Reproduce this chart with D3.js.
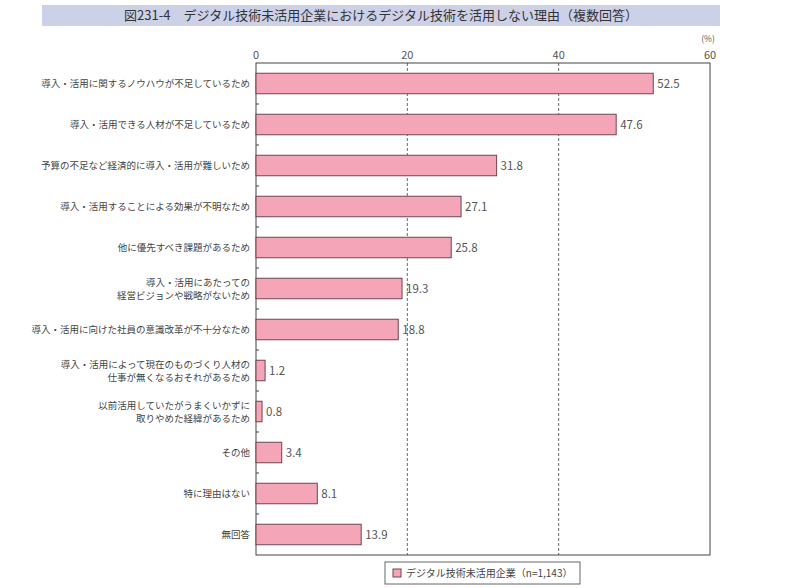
<!DOCTYPE html>
<html>
<head>
<meta charset="utf-8">
<script src="https://cdn.jsdelivr.net/npm/d3@7"></script>
<style>
  body { margin: 0; background: #fff; }
  text { font-family: "Noto Sans CJK JP", "Noto Sans", sans-serif; }
</style>
</head>
<body>
<svg width="800" height="588"></svg>
<script>
// categories (two-line labels split on "\n")
let categories = [
    "導入・活用に関するノウハウが不足しているため",
    "導入・活用できる人材が不足しているため",
    "予算の不足など経済的に導入・活用が難しいため",
    "導入・活用することによる効果が不明なため",
    "他に優先すべき課題があるため",
    "導入・活用にあたっての\n経営ビジョンや戦略がないため",
    "導入・活用に向けた社員の意識改革が不十分なため",
    "導入・活用によって現在のものづくり人材の\n仕事が無くなるおそれがあるため",
    "以前活用していたがうまくいかずに\n取りやめた経緯があるため",
    "その他",
    "特に理由はない",
    "無回答"
];
let values = [52.5, 47.6, 31.8, 27.1, 25.8, 19.3, 18.8, 1.2, 0.8, 3.4, 8.1, 13.9];
let xTicks = [0, 20, 40, 60];
let title = "図231-4　デジタル技術未活用企業におけるデジタル技術を活用しない理由（複数回答）";
let legendLabel = "デジタル技術未活用企業（n=1,143）";

let svg = d3.select("svg"),
    margin = {top: 63, left: 256, right: 90, bottom: 33},
    width = +svg.attr("width") - margin.left - margin.right,
    height = +svg.attr("height") - margin.top - margin.bottom;

let x = d3.scaleLinear().domain([0, 60]).range([0, width]);
let y = d3.scaleBand().domain(categories).range([0, height]).paddingInner(0.5).paddingOuter(0.25);

// title bar
svg.append("rect")
    .attr("x", 42).attr("y", 5).attr("width", 678).attr("height", 21)
    .attr("fill", "#cdd1e8");
svg.append("text")
    .attr("x", 381).attr("y", 20)
    .attr("text-anchor", "middle")
    .attr("font-size", 13)
    .attr("fill", "#333")
    .text(title);

let g = svg.append("g")
    .attr("transform", "translate(" + margin.left + "," + margin.top + ")");

// dashed grid
g.selectAll(".grid")
    .data(xTicks.filter(d => d > 0 && d < 60))
    .enter().append("line")
    .attr("x1", d => x(d)).attr("x2", d => x(d))
    .attr("y1", 0).attr("y2", height)
    .attr("stroke", "#444").attr("stroke-width", 0.8)
    .attr("stroke-dasharray", "3,2");

// frame
g.append("rect")
    .attr("width", width).attr("height", height)
    .attr("fill", "none").attr("stroke", "#444").attr("stroke-width", 1);

// top axis labels
g.selectAll(".xlab")
    .data(xTicks)
    .enter().append("text")
    .attr("x", d => x(d)).attr("y", -4)
    .attr("text-anchor", "middle")
    .attr("font-size", 11)
    .attr("fill", "#555")
    .text(d => d);
g.append("text")
    .attr("x", x(60) - 2).attr("y", -21)
    .attr("text-anchor", "middle")
    .attr("font-size", 8.5)
    .attr("fill", "#555")
    .text("(%)");

// small ticks between categories
let step = y.step();
g.selectAll(".ctick")
    .data(categories.slice(1))
    .enter().append("line")
    .attr("x1", 0).attr("x2", 3)
    .attr("y1", d => y(d) - step * 0.25).attr("y2", d => y(d) - step * 0.25)
    .attr("stroke", "#444");

// bars
g.selectAll(".bar")
    .data(categories)
    .enter().append("rect")
    .attr("x", 0)
    .attr("y", d => y(d))
    .attr("width", (d, i) => x(values[i]))
    .attr("height", y.bandwidth())
    .attr("fill", "#f4a6b8")
    .attr("stroke", "#6e4450")
    .attr("stroke-width", 1);

// value labels
g.selectAll(".val")
    .data(categories)
    .enter().append("text")
    .attr("x", (d, i) => x(values[i]) + 4)
    .attr("y", d => y(d) + y.bandwidth() / 2 + 4)
    .attr("font-size", 11.5)
    .attr("fill", "#555")
    .text((d, i) => values[i].toFixed(1));

// category labels
let labels = g.selectAll(".cat")
    .data(categories)
    .enter().append("text")
    .attr("text-anchor", "end")
    .attr("font-size", 9.5)
    .attr("fill", "#444");
labels.each(function (d) {
    let lines = d.split("\n");
    let t = d3.select(this);
    let cy = y(d) + y.bandwidth() / 2;
    lines.forEach((line, k) => {
        t.append("tspan")
            .attr("x", -6)
            .attr("y", cy + 3.5 + (k - (lines.length - 1) / 2) * 13)
            .text(line);
    });
});

// legend
let lg = svg.append("g").attr("transform", "translate(385,562)");
lg.append("rect")
    .attr("width", 195).attr("height", 22)
    .attr("fill", "#fff").attr("stroke", "#666");
lg.append("rect")
    .attr("x", 8).attr("y", 7).attr("width", 8).attr("height", 8)
    .attr("fill", "#f4a6b8").attr("stroke", "#6e4450");
lg.append("text")
    .attr("x", 21).attr("y", 15)
    .attr("font-size", 10)
    .attr("fill", "#444")
    .text(legendLabel);
</script>
</body>
</html>
